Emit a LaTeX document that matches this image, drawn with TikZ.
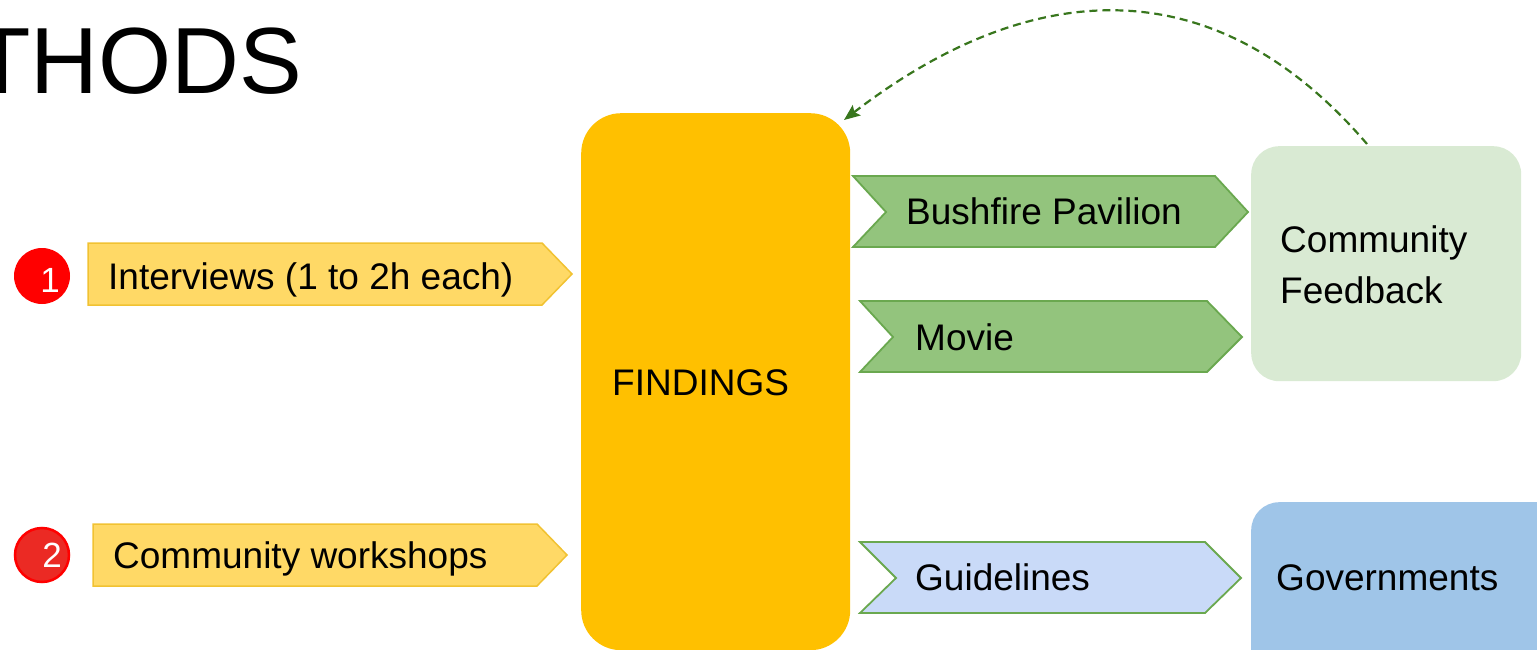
\documentclass[tikz,border=0pt]{standalone}
\usepackage{fontspec}
\setmainfont{Liberation Sans}
\usetikzlibrary{arrows.meta}

\definecolor{tagyellow}{HTML}{FFD966}
\definecolor{tagyellowline}{HTML}{F1C232}
\definecolor{findfill}{HTML}{FFC000}
\definecolor{chevgreen}{HTML}{93C47D}
\definecolor{chevline}{HTML}{6AA84F}
\definecolor{chevblue}{HTML}{C9DAF8}
\definecolor{fbfill}{HTML}{D9EAD3}
\definecolor{govfill}{HTML}{9FC5E8}
\definecolor{loopgreen}{HTML}{38761D}
\definecolor{badgered}{HTML}{FF0000}
\definecolor{badgered2}{HTML}{EB2A24}

\tikzset{
  label37/.style={anchor=base west, inner sep=0pt, font=\fontsize{37}{51}\selectfont, text=black},
  tagshape/.style={fill=tagyellow, draw=tagyellowline, line width=1.5pt, line join=miter},
  greenchev/.style={fill=chevgreen, draw=chevline, line width=1.8pt, line join=miter},
  bluechev/.style={fill=chevblue, draw=chevline, line width=1.8pt, line join=miter},
  badge/.style={circle, minimum size=56pt, inner sep=0pt},
  badgenum/.style={anchor=base, inner sep=0pt, text=white, font=\fontsize{35}{40}\selectfont},
  bigbox/.style={rectangle, anchor=north west, inner sep=0pt},
  loop/.style={loopgreen, line width=2.2pt, dash pattern=on 8pt off 5pt,
    -{Stealth[length=16pt, width=13pt, inset=3pt]}},
}

\begin{document}
\begin{tikzpicture}[x=1pt, y=-1pt]
\useasboundingbox (0,0) rectangle (1537,650);
\clip (0,0) rectangle (1537,650);

% heading
\node[anchor=base west, inner sep=0pt, font=\fontsize{94}{100}\selectfont] (title) at (-27,94) {THODS};

% numbered badges
\node[badge, fill=badgered] (circ1) at (42,276) {};
\node[badgenum] (num1) at (50,292) {1};
\node[badge, fill=badgered2, draw=badgered, line width=2.5pt, minimum size=54pt] (circ2) at (42,555) {};
\node[badgenum] (num2) at (52,567) {2};

% method tags
\path[tagshape] (88,243) -- (542,243) -- (572,274) -- (542,305) -- (88,305) -- cycle;
\node[label37] (interviews) at (108,289) {Interviews (1 to 2h each)};
\path[tagshape] (93,524) -- (537,524) -- (567,555) -- (537,586) -- (93,586) -- cycle;
\node[label37] (workshops) at (113,568) {Community workshops};

% findings block
\node[bigbox, fill=findfill, rounded corners=40pt, minimum width=269pt, minimum height=537pt] (findings) at (581,113) {};
\node[label37] (findtext) at (612,395) {FINDINGS};

% outputs
\path[greenchev] (853,176) -- (1215,176) -- (1248,212) -- (1215,247) -- (853,247) -- (886,212) -- cycle;
\node[label37] (bushfire) at (906,224) {Bushfire Pavilion};
\path[greenchev] (860,301) -- (1207,301) -- (1242,337) -- (1207,372) -- (860,372) -- (893,337) -- cycle;
\node[label37] (movie) at (915,350) {Movie};
\path[bluechev] (860,542) -- (1205,542) -- (1241,578) -- (1205,613) -- (860,613) -- (896,578) -- cycle;
\node[label37] (guidelines) at (915,590) {Guidelines};

% audiences (two-line label: base anchor sits on the last line)
\node[bigbox, fill=fbfill, rounded corners=28pt, minimum width=270pt, minimum height=235pt] (feedback) at (1251,146) {};
\node[label37, align=left] (fbtext) at (1280,303) {Community\\Feedback};
\node[bigbox, fill=govfill, rounded corners=28pt, minimum width=330pt, minimum height=200pt] (governments) at (1251,502) {};
\node[label37] (govtext) at (1276,590) {Governments};

% feedback loop
\coordinate (loopstart) at (1367,144);
\coordinate (loopend) at (844,120);
\draw[loop] (loopstart) .. controls (1211,-38) and (1026,-20) .. (loopend);
\end{tikzpicture}
\end{document}
